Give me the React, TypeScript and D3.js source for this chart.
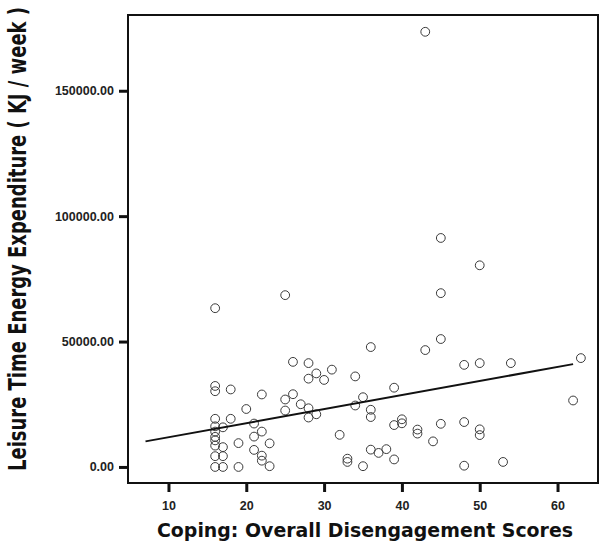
import { useEffect, useRef } from "react";
import * as d3 from "d3";

// coping score / leisure time energy expenditure
const copingScores = [
  43, 45, 50, 45, 25, 16, 45, 36, 43, 63, 26, 28, 48, 50, 54, 31, 29, 28, 30, 34,
  16, 16, 18, 39, 22, 26, 25, 35, 62, 20, 27, 34, 25, 28, 36, 29, 36, 28, 16, 18,
  40, 40, 39, 45, 48, 21, 16, 17, 42, 42, 50, 50, 22, 16, 16, 32, 21, 16, 44, 19,
  23, 17, 16, 36, 38, 37, 21, 22, 16, 17, 39, 33, 33, 22, 53, 16, 17, 19, 23, 35,
  48,
];
const energyKJ = [
  173500, 91300, 80400, 69300, 68500, 63300, 51000, 47800, 46600, 43400, 41900,
  41400, 40700, 41400, 41400, 38800, 37300, 35200, 34700, 36100, 32300, 30200,
  30900, 31600, 28900, 29000, 26900, 27800, 26500, 23100, 25000, 24500, 22500,
  23400, 22800, 21000, 19900, 19700, 19200, 19200, 19000, 17400, 16700, 17200,
  17900, 17300, 16200, 15800, 14900, 13300, 15000, 12700, 14100, 14100, 12000,
  12800, 12100, 10600, 10200, 9500, 9400, 7900, 8500, 6900, 7100, 5600, 6800,
  4500, 4300, 4300, 3000, 3300, 2000, 2500, 2000, 0, 0, 0, 300, 300, 500,
];

// linear fit as drawn
const fitRange = [7.05, 62];
const fitIntercept = 6250;
const fitSlope = 560.5;

const xTicks = [10, 20, 30, 40, 50, 60];
const yTicks = [0, 50000, 100000, 150000];

const xTitle = "Coping: Overall Disengagement Scores";
const yTitle = "Leisure Time Energy Expenditure ( KJ / week )";

const W = 601;
const H = 548;
const INK = "#111";

export default function App() {
  const ref = useRef<SVGSVGElement>(null);

  useEffect(() => {
    const el = ref.current;
    if (!el) return;
    const svg = d3.select(el);
    svg.selectAll("*").remove();

    const plot = { left: 128, right: 598, top: 15, bottom: 483 };

    const x = d3.scaleLinear().domain([4.8, 65.2]).range([plot.left, plot.right]);
    const y = d3.scaleLinear().domain([-6400, 180200]).range([plot.bottom, plot.top]);

    svg
      .append("rect")
      .attr("width", W)
      .attr("height", H)
      .attr("fill", "#fff");

    // points
    svg
      .append("g")
      .selectAll("circle")
      .data(d3.range(copingScores.length))
      .join("circle")
      .attr("cx", (i) => x(copingScores[i]))
      .attr("cy", (i) => y(energyKJ[i]))
      .attr("r", 4.4)
      .attr("fill", "none")
      .attr("stroke", "#3a3a3a")
      .attr("stroke-width", 1);

    // fit line
    const line = d3
      .line<number>()
      .x((d) => x(d))
      .y((d) => y(fitIntercept + fitSlope * d));
    svg
      .append("path")
      .attr("d", line(fitRange))
      .attr("fill", "none")
      .attr("stroke", INK)
      .attr("stroke-width", 2);

    // frame
    svg
      .append("rect")
      .attr("x", plot.left)
      .attr("y", plot.top)
      .attr("width", plot.right - plot.left)
      .attr("height", plot.bottom - plot.top)
      .attr("fill", "none")
      .attr("stroke", INK)
      .attr("stroke-width", 2);

    const styleAxis = (ga: any) => {
      ga.select(".domain").remove();
      ga.selectAll(".tick line").attr("stroke", INK).attr("stroke-width", 3);
      ga.selectAll("text")
        .attr("fill", "#222")
        .attr("font-family", "'Liberation Sans', Arial, sans-serif")
        .attr("font-weight", 700)
        .attr("font-size", 12.5);
    };

    svg
      .append("g")
      .attr("transform", `translate(0,${plot.bottom})`)
      .call(
        d3.axisBottom(x).tickValues(xTicks).tickSize(9).tickPadding(9).tickFormat(d3.format("d"))
      )
      .call(styleAxis);

    svg
      .append("g")
      .attr("transform", `translate(${plot.left},0)`)
      .call(
        d3.axisLeft(y).tickValues(yTicks).tickSize(9).tickPadding(5).tickFormat(d3.format(".2f"))
      )
      .call(styleAxis);

    svg
      .append("text")
      .attr("x", 157)
      .attr("y", 537)
      .attr("textLength", 416)
      .attr("lengthAdjust", "spacingAndGlyphs")
      .attr("font-family", "'DejaVu Sans', Verdana, sans-serif")
      .attr("font-weight", 700)
      .attr("font-size", 20)
      .attr("fill", INK)
      .text(xTitle);

    svg
      .append("text")
      .attr("transform", "translate(26,471) rotate(-90)")
      .attr("x", 0)
      .attr("y", 0)
      .attr("textLength", 464)
      .attr("lengthAdjust", "spacingAndGlyphs")
      .attr("font-family", "'DejaVu Sans', Verdana, sans-serif")
      .attr("font-weight", 700)
      .attr("font-size", 24)
      .attr("fill", INK)
      .text(yTitle);
  }, []);

  return (
    <svg
      ref={ref}
      width={W}
      height={H}
      style={{ position: "absolute", left: 0, top: 0, display: "block" }}
    />
  );
}
